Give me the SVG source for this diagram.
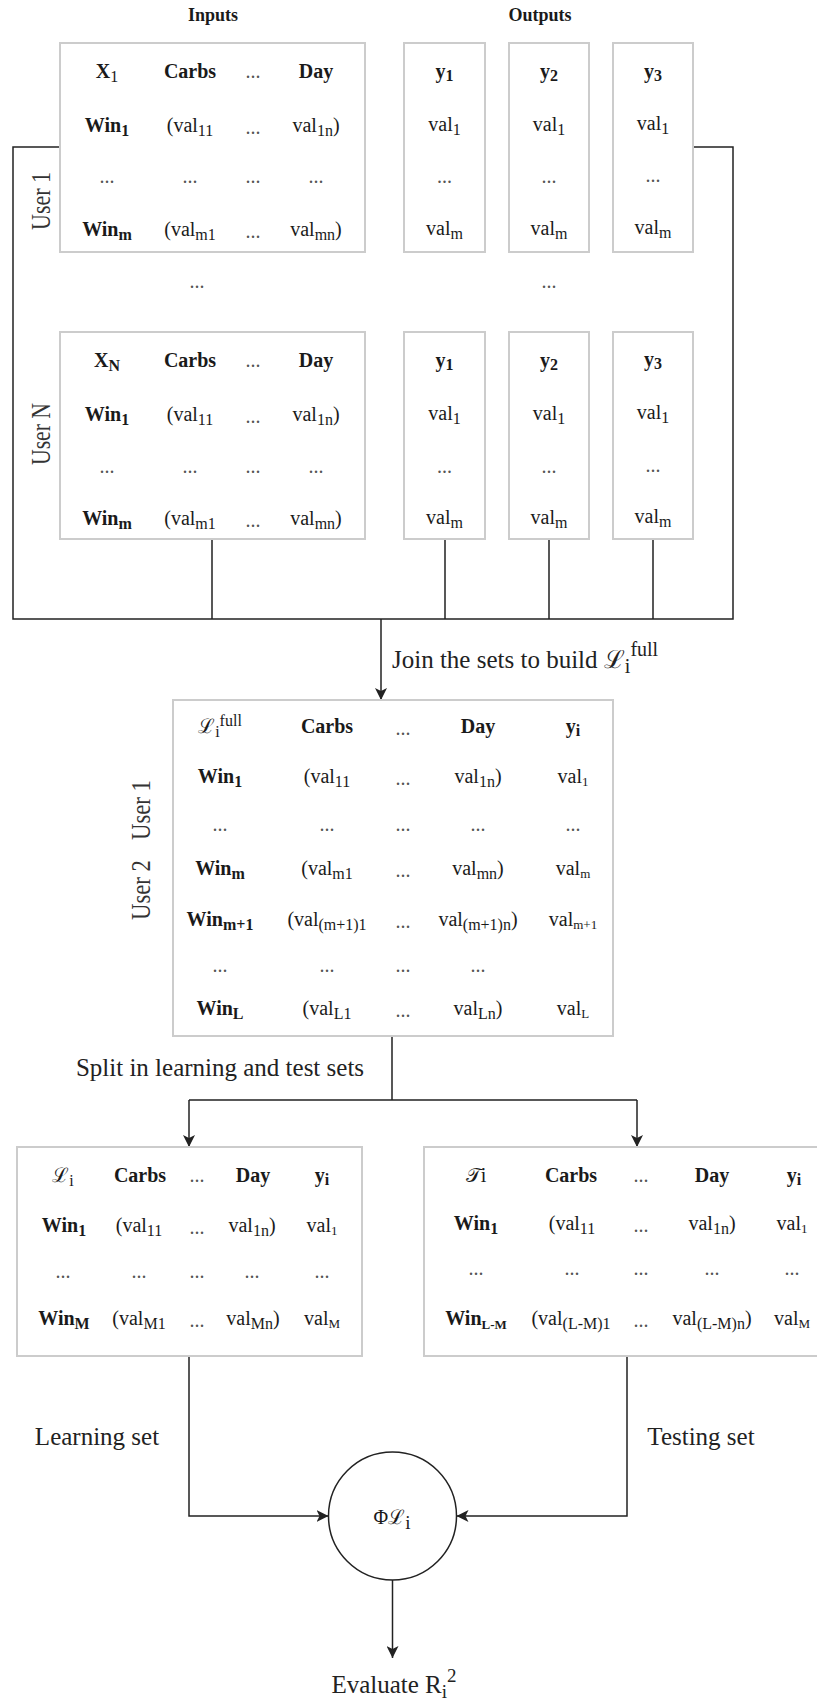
<svg xmlns="http://www.w3.org/2000/svg" width="817" height="1702" viewBox="0 0 817 1702">
<defs>
<style>
.t{font-family:"Liberation Serif","DejaVu Serif",serif;font-size:20px;fill:#1a1a1a;text-anchor:middle}
.b{font-weight:bold}
.s{font-size:16px}
.ss{font-size:13px}
.d{fill:#555}
.lb{font-family:"Liberation Serif","DejaVu Serif",serif;font-size:25px;fill:#222}
.hd{font-family:"Liberation Serif","DejaVu Serif",serif;font-size:18px;font-weight:bold;fill:#1a1a1a;text-anchor:middle}
.usr{font-family:"Liberation Serif","DejaVu Serif",serif;font-size:28px;fill:#333;text-anchor:middle}
.box{fill:#fff;stroke:#cccccc;stroke-width:2}
.ln{fill:none;stroke:#222;stroke-width:1.5}
</style>
<marker id="arr" viewBox="0 0 12 12" refX="12" refY="6" markerWidth="12" markerHeight="12" orient="auto" markerUnits="userSpaceOnUse">
<path d="M0,0 L12,6 L0,12 L3,6 z" fill="#222"/>
</marker>
</defs>
<rect width="817" height="1702" fill="#fff"/>

<g id="connectors">
<path class="ln" d="M60,147 H13 V619 H733 V147 H693"/>
<path class="ln" d="M212,539 V619 M445,539 V619 M549,539 V619 M653,539 V619"/>
<path class="ln" d="M381,619 V700" marker-end="url(#arr)"/>
<path class="ln" d="M392,1036 V1100 M189,1100 H637"/>
<path class="ln" d="M189,1100 V1147" marker-end="url(#arr)"/>
<path class="ln" d="M637,1100 V1147" marker-end="url(#arr)"/>
<path class="ln" d="M189,1356 V1516 H328.5" marker-end="url(#arr)"/>
<path class="ln" d="M627,1356 V1516 H456.5" marker-end="url(#arr)"/>
<path class="ln" d="M392.5,1580 V1658" marker-end="url(#arr)"/>
</g>

<g id="labels">
<text class="hd" x="213" y="21">Inputs</text>
<text class="hd" x="540" y="21">Outputs</text>
<text class="usr" transform="translate(50,201) rotate(-90)" textLength="58" lengthAdjust="spacingAndGlyphs">User 1</text>
<text class="usr" transform="translate(50,434) rotate(-90)" textLength="62" lengthAdjust="spacingAndGlyphs">User N</text>
<text class="t d" x="197" y="288">...</text>
<text class="t d" x="549" y="288">...</text>
<text class="lb" x="392" y="668">Join the sets to build ℒ<tspan font-size="20" dy="5">i</tspan><tspan font-size="20" dy="-17">full</tspan></text>
<text class="usr" transform="translate(150,810) rotate(-90)" textLength="60" lengthAdjust="spacingAndGlyphs">User 1</text>
<text class="usr" transform="translate(150,890) rotate(-90)" textLength="60" lengthAdjust="spacingAndGlyphs">User 2</text>
<text class="lb" x="220" y="1076" text-anchor="middle">Split in learning and test sets</text>
<text class="lb" x="97" y="1445" text-anchor="middle">Learning set</text>
<text class="lb" x="701" y="1445" text-anchor="middle">Testing set</text>
<text class="lb" x="394" y="1693" text-anchor="middle">Evaluate R<tspan font-size="19" dy="5">i</tspan><tspan font-size="19" dy="-16">2</tspan></text>
</g>

<g id="inputs-user1">
<rect class="box" x="60" y="43" width="305" height="209"/>
<text class="t" x="107" y="78"><tspan class="b">X</tspan><tspan class="s" dy="4">1</tspan></text>
<text class="t b" x="190" y="78">Carbs</text>
<text class="t d" x="253" y="78">...</text>
<text class="t b" x="316" y="78">Day</text>
<text class="t b" x="107" y="132">Win<tspan class="s" dy="4">1</tspan></text>
<text class="t" x="190" y="132">(val<tspan class="s" dy="4">11</tspan></text>
<text class="t d" x="253" y="134">...</text>
<text class="t" x="316" y="132">val<tspan class="s" dy="4">1n</tspan><tspan dy="-4">)</tspan></text>
<text class="t d" x="107" y="183">...</text>
<text class="t d" x="190" y="183">...</text>
<text class="t d" x="253" y="183">...</text>
<text class="t d" x="316" y="183">...</text>
<text class="t b" x="107" y="236">Win<tspan class="s" dy="4">m</tspan></text>
<text class="t" x="190" y="236">(val<tspan class="s" dy="4">m1</tspan></text>
<text class="t d" x="253" y="238">...</text>
<text class="t" x="316" y="236">val<tspan class="s" dy="4">mn</tspan><tspan dy="-4">)</tspan></text>
</g>

<g id="y1-user1">
<rect class="box" x="404" y="43" width="81" height="209"/>
<text class="t b" x="444.5" y="78">y<tspan class="s" dy="3">1</tspan></text>
<text class="t" x="444.5" y="131">val<tspan class="s" dy="4">1</tspan></text>
<text class="t d" x="444.5" y="183">...</text>
<text class="t" x="444.5" y="235">val<tspan class="s" dy="4">m</tspan></text>
</g>
<g id="y2-user1">
<rect class="box" x="509" y="43" width="80" height="209"/>
<text class="t b" x="549" y="78">y<tspan class="s" dy="3">2</tspan></text>
<text class="t" x="549" y="131">val<tspan class="s" dy="4">1</tspan></text>
<text class="t d" x="549" y="183">...</text>
<text class="t" x="549" y="235">val<tspan class="s" dy="4">m</tspan></text>
</g>
<g id="y3-user1">
<rect class="box" x="613" y="43" width="80" height="209"/>
<text class="t b" x="653" y="78">y<tspan class="s" dy="3">3</tspan></text>
<text class="t" x="653" y="130">val<tspan class="s" dy="4">1</tspan></text>
<text class="t d" x="653" y="182">...</text>
<text class="t" x="653" y="234">val<tspan class="s" dy="4">m</tspan></text>
</g>

<g id="inputs-userN">
<rect class="box" x="60" y="332" width="305" height="207"/>
<text class="t b" x="107" y="367">X<tspan class="s" dy="4">N</tspan></text>
<text class="t b" x="190" y="367">Carbs</text>
<text class="t d" x="253" y="367">...</text>
<text class="t b" x="316" y="367">Day</text>
<text class="t b" x="107" y="421">Win<tspan class="s" dy="4">1</tspan></text>
<text class="t" x="190" y="421">(val<tspan class="s" dy="4">11</tspan></text>
<text class="t d" x="253" y="423">...</text>
<text class="t" x="316" y="421">val<tspan class="s" dy="4">1n</tspan><tspan dy="-4">)</tspan></text>
<text class="t d" x="107" y="473">...</text>
<text class="t d" x="190" y="473">...</text>
<text class="t d" x="253" y="473">...</text>
<text class="t d" x="316" y="473">...</text>
<text class="t b" x="107" y="525">Win<tspan class="s" dy="4">m</tspan></text>
<text class="t" x="190" y="525">(val<tspan class="s" dy="4">m1</tspan></text>
<text class="t d" x="253" y="527">...</text>
<text class="t" x="316" y="525">val<tspan class="s" dy="4">mn</tspan><tspan dy="-4">)</tspan></text>
</g>

<g id="y1-userN">
<rect class="box" x="404" y="332" width="81" height="207"/>
<text class="t b" x="444.5" y="367">y<tspan class="s" dy="3">1</tspan></text>
<text class="t" x="444.5" y="420">val<tspan class="s" dy="4">1</tspan></text>
<text class="t d" x="444.5" y="473">...</text>
<text class="t" x="444.5" y="524">val<tspan class="s" dy="4">m</tspan></text>
</g>
<g id="y2-userN">
<rect class="box" x="509" y="332" width="80" height="207"/>
<text class="t b" x="549" y="367">y<tspan class="s" dy="3">2</tspan></text>
<text class="t" x="549" y="420">val<tspan class="s" dy="4">1</tspan></text>
<text class="t d" x="549" y="473">...</text>
<text class="t" x="549" y="524">val<tspan class="s" dy="4">m</tspan></text>
</g>
<g id="y3-userN">
<rect class="box" x="613" y="332" width="80" height="207"/>
<text class="t b" x="653" y="366">y<tspan class="s" dy="3">3</tspan></text>
<text class="t" x="653" y="419">val<tspan class="s" dy="4">1</tspan></text>
<text class="t d" x="653" y="472">...</text>
<text class="t" x="653" y="523">val<tspan class="s" dy="4">m</tspan></text>
</g>

<g id="full-set">
<rect class="box" x="173" y="700" width="440" height="336"/>
<text class="t" x="220" y="733">ℒ<tspan class="s" dy="4">i</tspan><tspan class="s" dy="-11">full</tspan></text>
<text class="t b" x="327" y="733">Carbs</text>
<text class="t d" x="403" y="735">...</text>
<text class="t b" x="478" y="733">Day</text>
<text class="t b" x="573" y="733">y<tspan class="s" dy="3">i</tspan></text>
<text class="t b" x="220" y="783">Win<tspan class="s" dy="4">1</tspan></text>
<text class="t" x="327" y="783">(val<tspan class="s" dy="4">11</tspan></text>
<text class="t d" x="403" y="785">...</text>
<text class="t" x="478" y="783">val<tspan class="s" dy="4">1n</tspan><tspan dy="-4">)</tspan></text>
<text class="t" x="573" y="783">val<tspan class="ss" dy="3">1</tspan></text>
<text class="t d" x="220" y="831">...</text>
<text class="t d" x="327" y="831">...</text>
<text class="t d" x="403" y="831">...</text>
<text class="t d" x="478" y="831">...</text>
<text class="t d" x="573" y="831">...</text>
<text class="t b" x="220" y="875">Win<tspan class="s" dy="4">m</tspan></text>
<text class="t" x="327" y="875">(val<tspan class="s" dy="4">m1</tspan></text>
<text class="t d" x="403" y="877">...</text>
<text class="t" x="478" y="875">val<tspan class="s" dy="4">mn</tspan><tspan dy="-4">)</tspan></text>
<text class="t" x="573" y="875">val<tspan class="ss" dy="3">m</tspan></text>
<text class="t b" x="220" y="926">Win<tspan class="s" dy="4">m+1</tspan></text>
<text class="t" x="327" y="926">(val<tspan class="s" dy="4">(m+1)1</tspan></text>
<text class="t d" x="403" y="928">...</text>
<text class="t" x="478" y="926">val<tspan class="s" dy="4">(m+1)n</tspan><tspan dy="-4">)</tspan></text>
<text class="t" x="573" y="926">val<tspan class="ss" dy="3">m+1</tspan></text>
<text class="t d" x="220" y="972">...</text>
<text class="t d" x="327" y="972">...</text>
<text class="t d" x="403" y="972">...</text>
<text class="t d" x="478" y="972">...</text>
<text class="t b" x="220" y="1015">Win<tspan class="s" dy="4">L</tspan></text>
<text class="t" x="327" y="1015">(val<tspan class="s" dy="4">L1</tspan></text>
<text class="t d" x="403" y="1017">...</text>
<text class="t" x="478" y="1015">val<tspan class="s" dy="4">Ln</tspan><tspan dy="-4">)</tspan></text>
<text class="t" x="573" y="1015">val<tspan class="ss" dy="3">L</tspan></text>
</g>

<g id="learning-set">
<rect class="box" x="17" y="1147" width="345" height="209"/>
<text class="t" x="63" y="1182">ℒ<tspan class="s" dy="4">i</tspan></text>
<text class="t b" x="140" y="1182">Carbs</text>
<text class="t d" x="197" y="1182">...</text>
<text class="t b" x="253" y="1182">Day</text>
<text class="t b" x="322" y="1182">y<tspan class="s" dy="3">i</tspan></text>
<text class="t b" x="64" y="1232">Win<tspan class="s" dy="4">1</tspan></text>
<text class="t" x="139" y="1232">(val<tspan class="s" dy="4">11</tspan></text>
<text class="t d" x="197" y="1234">...</text>
<text class="t" x="252" y="1232">val<tspan class="s" dy="4">1n</tspan><tspan dy="-4">)</tspan></text>
<text class="t" x="322" y="1232">val<tspan class="ss" dy="3">1</tspan></text>
<text class="t d" x="63" y="1278">...</text>
<text class="t d" x="139" y="1278">...</text>
<text class="t d" x="197" y="1278">...</text>
<text class="t d" x="252" y="1278">...</text>
<text class="t d" x="322" y="1278">...</text>
<text class="t b" x="64" y="1325">Win<tspan class="s" dy="4">M</tspan></text>
<text class="t" x="139" y="1325">(val<tspan class="s" dy="4">M1</tspan></text>
<text class="t d" x="197" y="1327">...</text>
<text class="t" x="253" y="1325">val<tspan class="s" dy="4">Mn</tspan><tspan dy="-4">)</tspan></text>
<text class="t" x="322" y="1325">val<tspan class="ss" dy="3">M</tspan></text>
</g>

<g id="test-set">
<rect class="box" x="424" y="1147" width="400" height="209"/>
<text class="t" x="476" y="1182">𝒯i</text>
<text class="t b" x="571" y="1182">Carbs</text>
<text class="t d" x="641" y="1182">...</text>
<text class="t b" x="712" y="1182">Day</text>
<text class="t b" x="794" y="1182">y<tspan class="s" dy="3">i</tspan></text>
<text class="t b" x="476" y="1230">Win<tspan class="s" dy="4">1</tspan></text>
<text class="t" x="572" y="1230">(val<tspan class="s" dy="4">11</tspan></text>
<text class="t d" x="641" y="1232">...</text>
<text class="t" x="712" y="1230">val<tspan class="s" dy="4">1n</tspan><tspan dy="-4">)</tspan></text>
<text class="t" x="792" y="1230">val<tspan class="ss" dy="3">1</tspan></text>
<text class="t d" x="476" y="1275">...</text>
<text class="t d" x="572" y="1275">...</text>
<text class="t d" x="641" y="1275">...</text>
<text class="t d" x="712" y="1275">...</text>
<text class="t d" x="792" y="1275">...</text>
<text class="t b" x="476" y="1325">Win<tspan class="ss" dy="4">L-M</tspan></text>
<text class="t" x="571" y="1325">(val<tspan class="s" dy="4">(L-M)1</tspan></text>
<text class="t d" x="641" y="1327">...</text>
<text class="t" x="712" y="1325">val<tspan class="s" dy="4">(L-M)n</tspan><tspan dy="-4">)</tspan></text>
<text class="t" x="792" y="1325">val<tspan class="ss" dy="3">M</tspan></text>
</g>

<g id="model">
<circle cx="392.5" cy="1516" r="64" fill="#fff" stroke="#222" stroke-width="1.5"/>
<text class="t" x="392" y="1524" font-size="24">Φℒ<tspan font-size="19" dy="5">i</tspan></text>
</g>
</svg>
